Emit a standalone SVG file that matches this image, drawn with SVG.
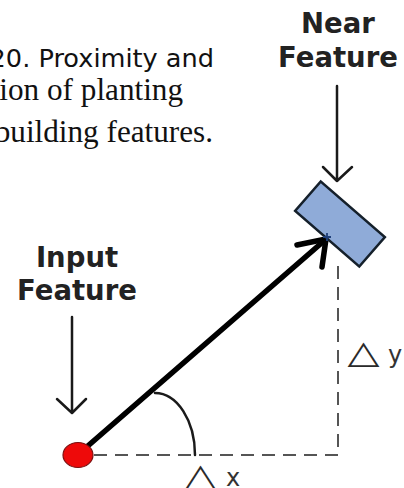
<svg xmlns="http://www.w3.org/2000/svg" width="404" height="488" viewBox="0 0 404 488">
  <style>
    .cap-sans { font-family: "DejaVu Sans", sans-serif; font-size: 25.6px; fill: #111; }
    .cap-serif { font-family: "Liberation Serif", serif; font-size: 31.2px; fill: #111; }
    .lbl { font-family: "DejaVu Sans", sans-serif; font-weight: bold; font-size: 27.5px; fill: #222; text-anchor: middle; }
    .delta { font-family: "DejaVu Sans", sans-serif; font-size: 24px; fill: #333; }
    .tri { font-family: "DejaVu Sans", sans-serif; font-size: 32px; font-weight: bold; fill: #2a2a2a; }
    .thin { fill: none; stroke: #1a1a1a; stroke-width: 2.5; stroke-linecap: round; stroke-linejoin: round; }
    .dash { fill: none; stroke: #555; stroke-width: 2; stroke-dasharray: 13 8; }
  </style>
  <rect width="404" height="488" fill="#ffffff"/>

  <g id="caption">
    <text class="cap-sans" x="214" y="67" text-anchor="end">20. Proximity and</text>
    <text class="cap-serif" x="183" y="100" text-anchor="end">ion of planting</text>
    <text class="cap-serif" x="213" y="142" text-anchor="end">building features.</text>
  </g>

  <g id="connectors">
    <path class="dash" d="M94,455 H338 V266"/>
    <path class="thin" d="M155,393 A40,62 0 0 1 195,455"/>
    <path class="thin" d="M337,86 V181 M323,167 L337,181 L352,167"/>
    <path class="thin" d="M72,317 V412 M57,399 L72,413 L86,399"/>
    <line x1="82" y1="451" x2="325" y2="240" stroke="#000" stroke-width="5.5" stroke-linecap="round"/>
    <polyline points="297,245 326,239 322,267" fill="none" stroke="#000" stroke-width="5.5" stroke-linecap="round" stroke-linejoin="miter"/>
  </g>

  <g id="near-feature">
    <text class="lbl" x="338" y="33">Near</text>
    <text class="lbl" x="338" y="67">Feature</text>
    <rect x="-42.5" y="-19.5" width="85" height="39" transform="translate(340,224) rotate(41)" fill="#8fabd8" stroke="#15202b" stroke-width="2.5"/>
    <path d="M323,237 H331 M327,233 V241" stroke="#1f3f7a" stroke-width="1.8"/>
  </g>

  <g id="input-feature">
    <text class="lbl" x="77" y="267">Input</text>
    <text class="lbl" x="77" y="300">Feature</text>
    <ellipse cx="78" cy="455" rx="15" ry="12.5" fill="#ee0a0a" stroke="#7a1010" stroke-width="1.2"/>
  </g>

  <g id="delta-labels">
    <text class="tri" transform="translate(184.5,486) scale(1.3,1)">△</text>
    <text class="delta" x="226" y="486">x</text>
    <text class="tri" transform="translate(347.5,363) scale(1.3,1)">△</text>
    <text class="delta" x="388" y="363">y</text>
  </g>
</svg>
